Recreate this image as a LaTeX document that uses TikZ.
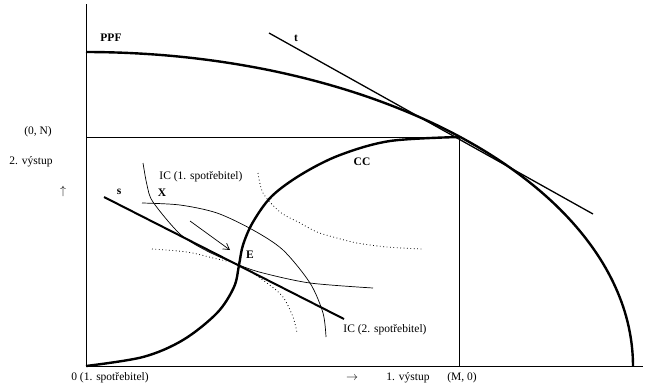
\documentclass[tikz,border=0pt]{standalone}
\usepackage{fontspec}
\setmainfont{Liberation Serif}
\usepackage{tikz}
\usetikzlibrary{arrows.meta}

\tikzset{
  thickcurve/.style={line width=2.4pt},
  thincurve/.style={line width=0.7pt},
  dotcurve/.style={line width=0.8pt, dash pattern=on 0.8pt off 2.6pt},
  lbl/.style={font=\fontsize{11.5}{13}\selectfont, inner sep=0pt},
  bold lbl/.style={font=\fontsize{11.5}{13}\selectfont\bfseries, inner sep=0pt}
}

\begin{document}
\begin{tikzpicture}[x=1pt, y=-1pt]
            \useasboundingbox (0,0) rectangle (650,389);
            % axes of the box
            \coordinate (O) at (86,366);
            \coordinate (T) at (459,137);
            \draw[line width=0.8pt] (86,4) -- (O) -- (643,366);
            \draw[line width=0.8pt] (86,137) -- (T) -- (459,366);
            % production possibility frontier
            \draw[thickcurve, domain=0:90, samples=100] plot ({86+547*cos(\x)}, {366-314*sin(\x)});
            % tangent t
            \coordinate (t1) at (269,33);
            \coordinate (t2) at (593,214);
            \draw[line width=1.3pt] (t1) -- (t2);
            % contract curve
            \coordinate (E) at (239,265);
            \draw[thickcurve] plot[smooth, tension=0.55] coordinates {(O) (143,357) (183,340) (217,313) (234,287) (E) (243,245) (253,222) (272,196) (302,174) (340,155) (390,141) (T)};
            % price line s
            \coordinate (s1) at (104,197);
            \coordinate (s2) at (344,319);
            \draw[line width=2pt] (s1) -- (s2);
            % indifference curves
            \draw[thincurve] plot[smooth] coordinates {(143,163) (147,185) (153,202) (180,234) (207,251) (E) (263,273) (310,283) (373,288)};
            \draw[thincurve] plot[smooth] coordinates {(142,203) (180,205) (217,213) (253,230) (283,250) (310,283) (323,313) (326,337)};
            \draw[dotcurve] plot[smooth] coordinates {(258,173) (263,193) (280,212) (300,223) (317,232) (337,238) (357,243) (387,247) (422,249)};
            \draw[dotcurve] plot[smooth] coordinates {(152,249) (187,252) (213,258) (E) (267,283) (283,297) (293,317) (297,333)};
            % move from X towards E
            \coordinate (a1) at (190,221);
            \coordinate (a2) at (230,250);
            \draw[thincurve, -{Straight Barb[length=6pt, width=7pt]}] (a1) -- (a2);
            % labels
            \node[bold lbl] (ppf) at (111,38) {PPF};
            \node[bold lbl] (tl) at (296,38) {t};
            \node[bold lbl] (cc) at (362,162) {CC};
            \node[bold lbl] (sl) at (119,192) {s};
            \node[bold lbl] (xl) at (162,193) {X};
            \node[bold lbl] (el) at (250,255) {E};
            \node[lbl] (ic1) at (201,177) {IC (1. spotřebitel)};
            \node[lbl] (ic2) at (385,330) {IC (2. spotřebitel)};
            \node[lbl] (n) at (38,132) {(0, N)};
            \node[lbl] (y2) at (31,162) {2. výstup};
            \node[lbl] (up) at (63,191) {$\uparrow$};
            \node[lbl] (o) at (110,378) {0 (1. spotřebitel)};
            \node[lbl] (right) at (352,378) {$\rightarrow$};
            \node[lbl] (y1) at (408,378) {1. výstup};
            \node[lbl] (m) at (462,378) {(M, 0)};
        \end{tikzpicture}
\end{document}
